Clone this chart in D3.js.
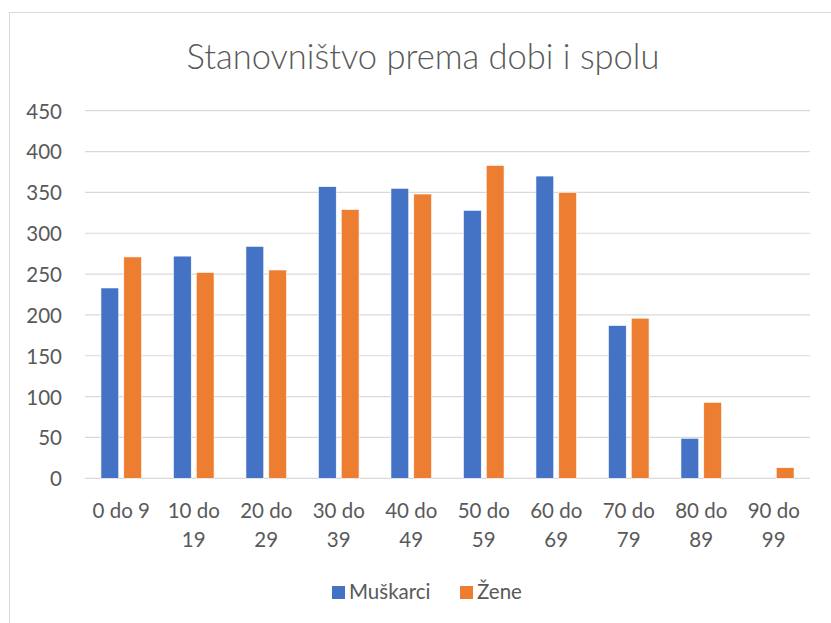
<!DOCTYPE html>
<html>
<head>
<meta charset="utf-8">
<script src="https://cdn.jsdelivr.net/npm/d3@7"></script>
<style>
  body { margin: 0; background: #fff; }
  text { font-family: Lato, "Open Sans", sans-serif; fill: #595959; }
</style>
</head>
<body>
<div id="chart"></div>
<script>
var categories = ["0 do 9", "10 do 19", "20 do 29", "30 do 39", "40 do 49",
                  "50 do 59", "60 do 69", "70 do 79", "80 do 89", "90 do 99"];
var seriesNames = ["Muškarci", "Žene"];
var muskarci = [233, 272, 284, 357, 355, 328, 370, 187, 49, 0];
var zene = [271, 252, 255, 329, 348, 383, 350, 196, 93, 13];
var yTicks = [0, 50, 100, 150, 200, 250, 300, 350, 400, 450];

var width = 831, height = 623;
var colors = ["#4472C4", "#ED7D31"];

var svg = d3.select("#chart").append("svg")
  .attr("width", width)
  .attr("height", height);

// chart border
svg.append("rect")
  .attr("x", 9.5).attr("y", 12.5)
  .attr("width", width).attr("height", height)
  .attr("fill", "none")
  .attr("stroke", "#d9d9d9");

svg.append("text")
  .attr("x", 423).attr("y", 69)
  .attr("text-anchor", "middle")
  .style("font-size", "34.5px")
  .style("font-weight", 300)
  .text("Stanovništvo prema dobi i spolu");

var plot = { left: 85, right: 810, top: 110.7, bottom: 478.3 };

var x = d3.scaleBand()
  .domain(categories)
  .range([plot.left, plot.right])
  .paddingInner(0.44)
  .paddingOuter(0.22);

var xs = d3.scaleBand()
  .domain(seriesNames)
  .range([0, x.bandwidth()])
  .paddingInner(0.22);

var y = d3.scaleLinear()
  .domain([0, 450])
  .range([plot.bottom, plot.top]);

// gridlines
svg.append("g")
  .selectAll("line")
  .data(yTicks)
  .enter()
  .append("line")
  .attr("x1", plot.left).attr("x2", plot.right)
  .attr("y1", d => y(d)).attr("y2", d => y(d))
  .attr("stroke", "#d9d9d9")
  .attr("stroke-width", 1.2);

// y labels
var yAxis = d3.axisLeft(y).tickValues(yTicks).tickSize(0).tickPadding(0);
var yg = svg.append("g")
  .attr("transform", "translate(62,0)")
  .call(yAxis);
yg.select(".domain").remove();
yg.selectAll("text")
  .style("font-size", "20.5px")
  .attr("dy", "0.36em");

// bars
var data = [muskarci, zene];
var groups = svg.append("g")
  .selectAll("g")
  .data(data)
  .enter()
  .append("g")
  .attr("fill", (d, i) => colors[i]);

groups.selectAll("rect")
  .data((d, i) => d.map((v, j) => ({ cat: categories[j], s: seriesNames[i], v: v })))
  .enter()
  .filter(d => d.v > 0)
  .append("rect")
  .attr("x", d => x(d.cat) + xs(d.s))
  .attr("width", xs.bandwidth())
  .attr("y", d => y(d.v))
  .attr("height", d => y(0) - y(d.v))
  .attr("stroke", "#fff")
  .attr("stroke-width", 0.6);

// x labels (two lines)
var xl = svg.append("g")
  .selectAll("text")
  .data(categories)
  .enter()
  .append("text")
  .attr("text-anchor", "middle")
  .style("font-size", "20.5px")
  .attr("x", d => x(d) + x.bandwidth() / 2)
  .attr("y", 518);

xl.each(function (d) {
  var parts = d.split(" ");
  var t = d3.select(this);
  if (d === "0 do 9") {
    t.append("tspan").text(d);
  } else {
    t.append("tspan").attr("x", x(d) + x.bandwidth() / 2).text(parts[0] + " " + parts[1]);
    t.append("tspan").attr("x", x(d) + x.bandwidth() / 2).attr("dy", 28.5).text(parts[2]);
  }
});

// legend
var legend = svg.append("g");
var legendX = [332, 460];
seriesNames.forEach(function (name, i) {
  legend.append("rect")
    .attr("x", legendX[i]).attr("y", 586)
    .attr("width", 13).attr("height", 13)
    .attr("fill", colors[i]);
  legend.append("text")
    .attr("x", legendX[i] + 17).attr("y", 599)
    .style("font-size", "20.5px")
    .text(name);
});
</script>
</body>
</html>
